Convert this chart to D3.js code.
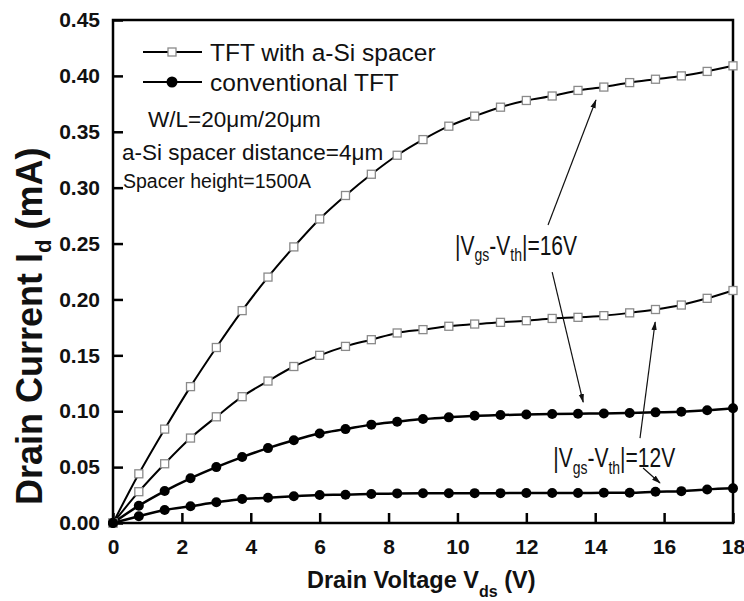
<!DOCTYPE html>
<html>
<head>
<meta charset="utf-8">
<script src="https://cdn.jsdelivr.net/npm/d3@7"></script>
<style>
  body { margin: 0; background: #fff; }
  text { font-family: "Liberation Sans", Arial, sans-serif; }
</style>
</head>
<body>
<div id="chart"></div>
<script>
// drain voltage steps (V)
const vds = [0, 0.75, 1.5, 2.25, 3, 3.75, 4.5, 5.25, 6, 6.75, 7.5, 8.25, 9,
             9.75, 10.5, 11.25, 12, 12.75, 13.5, 14.25, 15, 15.75, 16.5, 17.25, 18];

// drain current (mA)
const spacer16 = [0, 0.044, 0.084, 0.122, 0.157, 0.190, 0.220, 0.247, 0.272, 0.293, 0.312, 0.329, 0.343,
                  0.355, 0.364, 0.372, 0.378, 0.382, 0.387, 0.390, 0.394, 0.397, 0.400, 0.404, 0.409];
const spacer12 = [0, 0.028, 0.053, 0.076, 0.095, 0.113, 0.127, 0.140, 0.150, 0.158, 0.164, 0.170, 0.173,
                  0.176, 0.178, 0.1795, 0.181, 0.183, 0.184, 0.1855, 0.188, 0.191, 0.195, 0.201, 0.208];
const conv16 = [0, 0.0155, 0.0286, 0.040, 0.050, 0.059, 0.067, 0.074, 0.080, 0.084, 0.088, 0.0906, 0.093,
                0.0945, 0.096, 0.0966, 0.097, 0.0975, 0.0978, 0.098, 0.0984, 0.099, 0.0996, 0.1008, 0.1026];
const conv12 = [0, 0.006, 0.0116, 0.015, 0.0185, 0.0215, 0.0226, 0.024, 0.025, 0.0253, 0.026, 0.0265, 0.0266,
                0.0266, 0.0267, 0.0267, 0.0268, 0.0268, 0.0268, 0.027, 0.027, 0.028, 0.0285, 0.030, 0.031];

const xTicks = [0, 2, 4, 6, 8, 10, 12, 14, 16, 18];
const yTicks = [0, 0.05, 0.10, 0.15, 0.20, 0.25, 0.30, 0.35, 0.40, 0.45];

const legendLabels = ["TFT with a-Si spacer", "conventional TFT"];
const noteLines = ["W/L=20\u03bcm/20\u03bcm", "a-Si spacer distance=4\u03bcm", "Spacer height=1500A"];

// annotation arrows in data units [x1, y1, x2, y2]
const arrows16 = [[12.63, 0.2666, 14.02, 0.3784], [12.75, 0.2245, 13.65, 0.1082]];
const arrows12 = [[15.30, 0.076, 15.74, 0.1798], [15.39, 0.0492, 15.88, 0.0358]];

const margin = {top: 20, right: 11, bottom: 78, left: 113},
  width = 744 - margin.left - margin.right,
  height = 601 - margin.top - margin.bottom;

const svg = d3.select("#chart")
  .append("svg")
    .attr("width", 744)
    .attr("height", 601)
  .append("g")
    .attr("transform", `translate(${margin.left}, ${margin.top})`);

svg.append("defs").append("marker")
    .attr("id", "head")
    .attr("viewBox", "0 0 10 10")
    .attr("refX", 9).attr("refY", 5)
    .attr("markerWidth", 9).attr("markerHeight", 9)
    .attr("markerUnits", "userSpaceOnUse")
    .attr("orient", "auto")
  .append("path")
    .attr("d", "M0,2 L10,5 L0,8 Z")
    .attr("fill", "#111");

const x = d3.scaleLinear().domain([0, 18]).range([0, width]);
const y = d3.scaleLinear().domain([0, 0.45]).range([height, 0]);

// axes, ticks pointing inward
svg.append("g")
  .attr("transform", `translate(0, ${height})`)
  .call(d3.axisBottom(x).tickValues(xTicks).tickSize(-10).tickPadding(16).tickFormat(d3.format("d")))
  .call(g => g.select(".domain").remove())
  .call(g => g.selectAll("line").attr("stroke", "#000").attr("stroke-width", 2.5))
  .call(g => g.selectAll("text").attr("font-size", 21).attr("font-weight", "bold").attr("fill", "#111"));

svg.append("g")
  .call(d3.axisLeft(y).tickValues(yTicks).tickSize(-10).tickPadding(13).tickFormat(d3.format(".2f")))
  .call(g => g.select(".domain").remove())
  .call(g => g.selectAll("line").attr("stroke", "#000").attr("stroke-width", 2.5))
  .call(g => g.selectAll("text").attr("font-size", 21).attr("font-weight", "bold").attr("fill", "#111"));

// frame
svg.append("rect")
  .attr("width", width).attr("height", height)
  .attr("fill", "none").attr("stroke", "#000").attr("stroke-width", 2.5);

// axis titles
const xt = svg.append("text")
  .attr("x", 194).attr("y", height + 65)
  .attr("font-size", 23.5).attr("font-weight", "bold").attr("fill", "#111");
xt.append("tspan").text("Drain Voltage V");
xt.append("tspan").attr("font-size", 16).attr("dy", 9).text("ds");
xt.append("tspan").attr("dy", -9).text(" (V)");

const yt = svg.append("text")
  .attr("transform", `translate(-71, ${height - 18}) rotate(-90)`)
  .attr("font-size", 36).attr("font-weight", "bold").attr("fill", "#111");
yt.append("tspan").text("Drain Current I");
yt.append("tspan").attr("font-size", 22).attr("dy", 9).text("d");
yt.append("tspan").attr("dy", -9).text(" (mA)");

// curves
const line = d3.line()
  .x((d, i) => x(vds[i]))
  .y(d => y(d))
  .curve(d3.curveMonotoneX);

const series = [
  {values: spacer16, kind: "square"},
  {values: spacer12, kind: "square"},
  {values: conv16, kind: "circle"},
  {values: conv12, kind: "circle"}
];

series.forEach(s => {
  svg.append("path")
    .datum(s.values)
    .attr("d", line)
    .attr("fill", "none")
    .attr("stroke", "#000")
    .attr("stroke-width", s.kind === "square" ? 2 : 2.5);
});

series.forEach(s => {
  if (s.kind === "square") {
    svg.selectAll(null)
      .data(s.values)
      .join("rect")
        .attr("x", (d, i) => x(vds[i]) - 4)
        .attr("y", d => y(d) - 4)
        .attr("width", 8).attr("height", 8)
        .attr("fill", "#fff")
        .attr("stroke", "#8a8a8a")
        .attr("stroke-width", 1.3);
  } else {
    svg.selectAll(null)
      .data(s.values)
      .join("circle")
        .attr("cx", (d, i) => x(vds[i]))
        .attr("cy", d => y(d))
        .attr("r", 5)
        .attr("fill", "#000");
  }
});

// legend
const legend = svg.append("g").attr("transform", "translate(30, 32)");
legendLabels.forEach((lab, i) => {
  const g = legend.append("g").attr("transform", `translate(0, ${i * 30})`);
  g.append("line").attr("x1", 0).attr("x2", 59).attr("stroke", "#000").attr("stroke-width", 2);
  if (i === 0) {
    g.append("rect").attr("x", 25).attr("y", -4).attr("width", 8).attr("height", 8)
      .attr("fill", "#fff").attr("stroke", "#8a8a8a").attr("stroke-width", 1.3);
  } else {
    g.append("circle").attr("cx", 29).attr("r", 5.5).attr("fill", "#000");
  }
  g.append("text").attr("x", 67).attr("y", 8.5)
    .attr("font-size", 24.5).attr("fill", "#111").text(lab);
});

// device notes
svg.append("text").attr("x", 35).attr("y", 107).attr("font-size", 22.5).attr("fill", "#111").text(noteLines[0]);
svg.append("text").attr("x", 9).attr("y", 140).attr("font-size", 22.5).attr("fill", "#111").text(noteLines[1]);
svg.append("text").attr("x", 10).attr("y", 168).attr("font-size", 19.5).attr("fill", "#111").text(noteLines[2]);

// Vgs-Vth annotations
function vLabel(xv, yv, val) {
  const t = svg.append("text")
    .attr("transform", `translate(${x(xv)}, ${y(yv)}) scale(1, 1.3)`)
    .attr("font-size", 21).attr("fill", "#111");
  t.append("tspan").text("|V");
  t.append("tspan").attr("font-size", 14).attr("dy", 5).text("gs");
  t.append("tspan").attr("dy", -5).text("-V");
  t.append("tspan").attr("font-size", 14).attr("dy", 5).text("th");
  t.append("tspan").attr("dy", -5).text(`|=${val}V`);
}
vLabel(9.93, 0.240, 16);
vLabel(12.78, 0.0501, 12);

svg.selectAll(null)
  .data(arrows16.concat(arrows12))
  .join("line")
    .attr("x1", d => x(d[0])).attr("y1", d => y(d[1]))
    .attr("x2", d => x(d[2])).attr("y2", d => y(d[3]))
    .attr("stroke", "#111").attr("stroke-width", 1.2)
    .attr("marker-end", "url(#head)");
</script>
</body>
</html>
